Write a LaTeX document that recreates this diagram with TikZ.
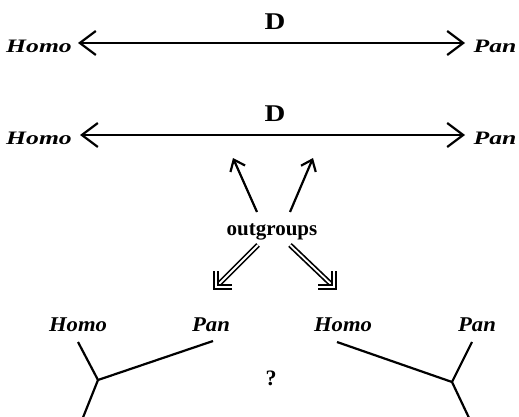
\documentclass[tikz,border=0pt]{standalone}
\usepackage{fontspec}
\usepackage{graphicx}
\setmainfont{Liberation Serif}
\usetikzlibrary{arrows.meta}
\newcommand{\toplab}[1]{\scalebox{1.35}[1]{\fontsize{19}{19}\selectfont\bfseries\itshape #1}}
\newcommand{\botlab}[1]{\scalebox{1.08}[1]{\fontsize{21}{21}\selectfont\bfseries\itshape #1}}
\newcommand{\dlab}{\scalebox{1.2}[1]{\fontsize{24}{24}\selectfont\bfseries D}}
\begin{document}
\begin{tikzpicture}[x=1pt,y=1pt,
  txt/.style={inner sep=0pt},
  longarrow/.style={line width=2.2pt, {Straight Barb[length=16pt,width=24pt]}-{Straight Barb[length=16pt,width=24pt]}},
  shortarrow/.style={line width=2.2pt, -{Straight Barb[length=10pt,width=16pt]}},
  dblline/.style={line width=1.7pt, double distance=1.8pt, line join=miter},
  branch/.style={line width=2.2pt}]
\useasboundingbox (0,0) rectangle (519,-417);
% top row
\node[txt] (h1) at (39,-46) {\toplab{Homo}};
\node[txt] (p1) at (495,-46) {\toplab{Pan}};
\node[txt] (d1) at (275,-22) {\dlab};
\coordinate (l1) at (78,-43);
\coordinate (r1) at (465,-43);
\draw[longarrow] (l1) -- (r1);
% second row
\node[txt] (h2) at (39,-138) {\toplab{Homo}};
\node[txt] (p2) at (495,-138) {\toplab{Pan}};
\node[txt] (d2) at (275,-114) {\dlab};
\coordinate (l2) at (80,-135);
\coordinate (r2) at (465,-135);
\draw[longarrow] (l2) -- (r2);
% outgroups
\node[txt] (og) at (272,-232) {\fontsize{21}{21}\selectfont\bfseries outgroups};
\coordinate (ua) at (233,-158);
\coordinate (ub) at (313,-158);
\draw[shortarrow] (257,-212) -- (ua);
\draw[shortarrow] (290,-212) -- (ub);
\coordinate (da) at (216,-287);
\coordinate (db) at (334,-287);
\draw[dblline] (258,-245) -- (da);
\draw[dblline] (da) ++(16,0) -- (da) -- ++(0,16);
\draw[dblline] (290,-245) -- (db);
\draw[dblline] (db) ++(-16,0) -- (db) -- ++(0,16);
% bottom trees
\node[txt] (h3) at (78,-325) {\botlab{Homo}};
\node[txt] (p3) at (211,-325) {\botlab{Pan}};
\node[txt] (h4) at (343,-325) {\botlab{Homo}};
\node[txt] (p4) at (477,-325) {\botlab{Pan}};
\node[txt] (q) at (271,-378) {\fontsize{22}{22}\selectfont\bfseries ?};
\coordinate (j1) at (98,-380);
\coordinate (j2) at (452,-382);
\coordinate (e1) at (78,-342);
\coordinate (e2) at (213,-341);
\coordinate (e3) at (82,-420);
\coordinate (e4) at (337,-342);
\coordinate (e5) at (472,-342);
\coordinate (e6) at (470,-420);
\draw[branch] (e1) -- (j1) -- (e2);
\draw[branch] (j1) -- (e3);
\draw[branch] (e4) -- (j2) -- (e5);
\draw[branch] (j2) -- (e6);
\end{tikzpicture}
\end{document}
